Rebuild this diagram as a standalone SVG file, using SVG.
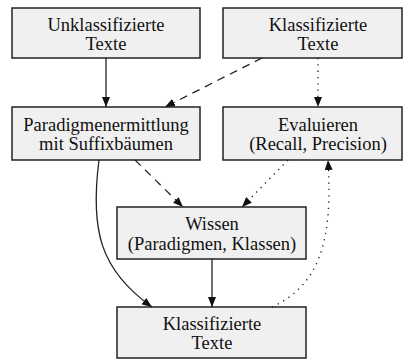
<svg xmlns="http://www.w3.org/2000/svg" width="403" height="360" viewBox="0 0 403 360">
<style>
.box{fill:#f0f0f0;stroke:#222;stroke-width:1.5}
text{font-family:"Liberation Serif","Times New Roman",serif;font-size:18.5px;fill:#111;text-anchor:middle}
.e{fill:none;stroke:#222;stroke-width:1.3}
.dash{stroke-dasharray:8,6}
.dot{stroke-dasharray:1.3,5}
</style>
<defs>
<marker id="ah" viewBox="0 0 10 8" refX="10" refY="4" markerWidth="10" markerHeight="8" markerUnits="userSpaceOnUse" orient="auto">
<path d="M0,0 L10,4 L0,8 z" fill="#111"/>
</marker>
</defs>
<g id="unklass">
<rect class="box" x="12" y="8" width="188" height="50"/>
<text x="106" y="31">Unklassifizierte</text>
<text x="106" y="50">Texte</text>
</g>
<g id="klass-top">
<rect class="box" x="223" y="8" width="179" height="50"/>
<text x="318" y="31">Klassifizierte</text>
<text x="318" y="50">Texte</text>
</g>
<g id="paradigm">
<rect class="box" x="12" y="107" width="188" height="53"/>
<text x="106" y="130.5">Paradigmenermittlung</text>
<text x="106" y="150">mit Suffixbäumen</text>
</g>
<g id="eval">
<rect class="box" x="223" y="107" width="179" height="53"/>
<text x="318" y="130.5">Evaluieren</text>
<text x="318" y="150">(Recall, Precision)</text>
</g>
<g id="wissen">
<rect class="box" x="117" y="207" width="189" height="52"/>
<text x="212" y="230">Wissen</text>
<text x="212" y="249.5">(Paradigmen, Klassen)</text>
</g>
<g id="klass-bottom">
<rect class="box" x="117" y="307" width="189" height="51"/>
<text x="212" y="329.5">Klassifizierte</text>
<text x="212" y="349">Texte</text>
</g>
<g id="connectors">
<path class="e" d="M106,58 L106,107" marker-end="url(#ah)"/>
<path class="e dash" d="M262,58 L165,107" marker-end="url(#ah)"/>
<path class="e dot" d="M318,58 L318,107" marker-end="url(#ah)"/>
<path class="e dash" d="M135,160 L183,207" marker-end="url(#ah)"/>
<path class="e dot" d="M288,160 L242,207" marker-end="url(#ah)"/>
<path class="e" d="M99,160 C90,230 100,270 152,307" marker-end="url(#ah)"/>
<path class="e" d="M212,259 L212,307" marker-end="url(#ah)"/>
<path class="e dot" d="M272,307 C320,285 333,240 328,160" marker-end="url(#ah)"/>
</g>
</svg>
